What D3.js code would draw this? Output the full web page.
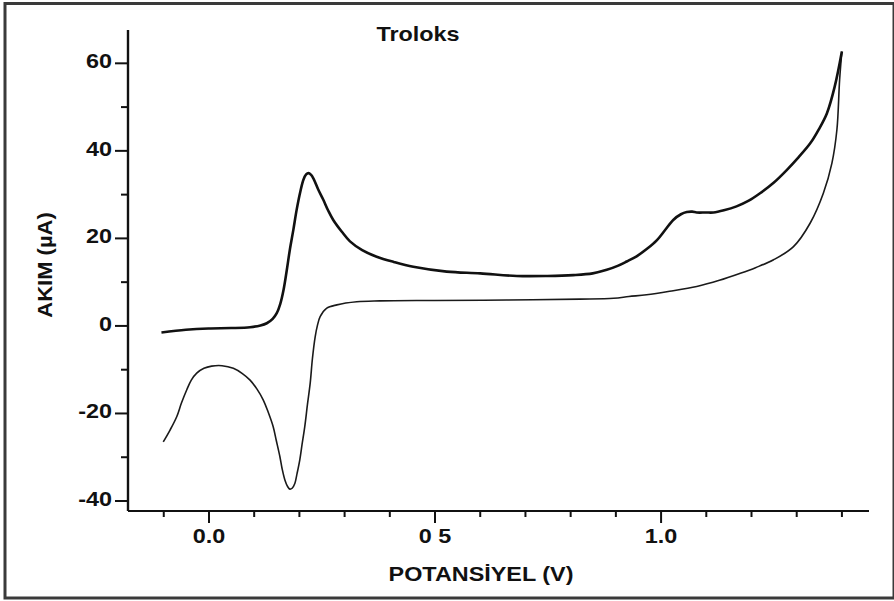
<!DOCTYPE html>
<html>
<head>
<meta charset="utf-8">
<script src="https://cdn.jsdelivr.net/npm/d3@7"></script>
<style>
  html, body { margin: 0; padding: 0; background: #fff; }
  svg { display: block; }
  text { font-family: "Liberation Sans", Arial, Helvetica, sans-serif; font-weight: bold; fill: #111; }
</style>
</head>
<body>
<svg id="chart" width="894" height="601"></svg>
<script>
// Cyclic voltammogram of Trolox: anodic sweep (forward) and cathodic sweep (return)
const forwardPotential = [
  -0.104, -0.05, 0.0, 0.05, 0.092, 0.115, 0.129, 0.142, 0.151, 0.159, 0.166, 0.173, 0.180,
  0.188, 0.195, 0.203, 0.210, 0.216, 0.221, 0.227, 0.232, 0.243, 0.254, 0.265, 0.276, 0.295,
  0.313, 0.340, 0.372, 0.410, 0.453, 0.527, 0.601, 0.682, 0.750, 0.807, 0.850, 0.881, 0.905,
  0.925, 0.947, 0.970, 0.992, 1.010, 1.028, 1.045, 1.058, 1.070, 1.080, 1.100, 1.117, 1.140,
  1.168, 1.195, 1.220, 1.250, 1.279, 1.305, 1.331, 1.350, 1.368, 1.385, 1.401
];
const forwardCurrent = [
  -1.6, -1.0, -0.7, -0.6, -0.4, 0.0, 0.5, 1.5, 2.8, 5.0, 8.1, 12.5, 17.3,
  22.0, 26.4, 30.5, 33.3, 34.5, 34.8, 34.4, 33.6, 31.0, 28.7, 26.2, 24.1, 21.4,
  19.2, 17.2, 15.7, 14.5, 13.4, 12.3, 11.9, 11.3, 11.3, 11.5, 11.9, 12.7, 13.6,
  14.6, 15.8, 17.5, 19.5, 21.8, 24.1, 25.4, 25.9, 26.0, 25.8, 25.8, 25.8, 26.3,
  27.2, 28.5, 30.2, 32.6, 35.5, 38.4, 41.6, 44.8, 48.5, 54.5, 62.6
];
const reversePotential = [
  1.401, 1.396, 1.390, 1.379, 1.360, 1.331, 1.294, 1.250, 1.210, 1.176, 1.130, 1.080, 1.020,
  0.969, 0.930, 0.896, 0.822, 0.660, 0.500, 0.379, 0.328, 0.284, 0.261, 0.247, 0.241, 0.236,
  0.230, 0.225, 0.219, 0.213, 0.207, 0.202, 0.196, 0.191, 0.185, 0.180, 0.175, 0.169, 0.163,
  0.158, 0.150, 0.143, 0.132, 0.121, 0.107, 0.092, 0.075, 0.055, 0.030, 0.007, -0.010, -0.026,
  -0.038, -0.048, -0.060, -0.070, -0.085, -0.100
];
const reverseCurrent = [
  62.6, 56.1, 44.7, 37.1, 30.2, 23.4, 18.0, 15.0, 13.2, 11.9, 10.3, 8.9, 7.8,
  7.0, 6.6, 6.2, 6.0, 5.8, 5.7, 5.6, 5.4, 4.7, 3.9, 2.0, 0.0, -2.6,
  -7.5, -13.2, -18.0, -23.1, -27.2, -30.7, -33.8, -36.1, -37.2, -37.4, -36.8, -35.3, -32.8,
  -30.0, -26.3, -23.1, -19.8, -17.0, -14.5, -12.5, -11.0, -9.8, -9.2, -9.3, -9.8, -10.9,
  -12.5, -14.7, -17.8, -20.8, -23.9, -26.6
];

const xMajorTicks = [0.0, 0.5, 1.0];
const xMajorLabels = ["0.0", "0 5", "1.0"];
const xMinorTicks = [-0.1, 0.1, 0.2, 0.3, 0.4, 0.6, 0.7, 0.8, 0.9, 1.1, 1.2, 1.3, 1.4];
const yMajorTicks = [-40, -20, 0, 20, 40, 60];
const yMinorTicks = [-30, -10, 10, 30, 50];

const titleText = "Troloks";
const xTitle = "POTANSİYEL (V)";
const yTitle = "AKIM (µA)";

const svg = d3.select("#chart");
const stretch = 1.17;   // wide bold lettering
const fontSize = 20;

// outer frame
svg.append("rect")
  .attr("x", 5).attr("y", 3.5).attr("width", 889).attr("height", 594.5)
  .attr("fill", "none").attr("stroke", "#3a3a3a").attr("stroke-width", 3);

const plot = { left: 128, right: 869, top: 30, bottom: 511 };

const x = d3.scaleLinear().domain([-0.178, 1.461]).range([plot.left, plot.right]);
const y = d3.scaleLinear().domain([-42.4, 67.5]).range([plot.bottom, plot.top]);

// axes: minor ticks without labels, major ticks with labels
const gx = svg.append("g").attr("transform", `translate(0,${plot.bottom})`);
gx.append("g").call(d3.axisBottom(x).tickValues(xMinorTicks).tickSize(6).tickFormat(""));
const gxMajor = gx.append("g").call(
  d3.axisBottom(x).tickValues(xMajorTicks).tickSize(12)
    .tickFormat((d, i) => xMajorLabels[i])
);

const gy = svg.append("g").attr("transform", `translate(${plot.left},0)`);
gy.append("g").call(d3.axisLeft(y).tickValues(yMinorTicks).tickSize(7).tickFormat(""));
const gyMajor = gy.append("g").call(
  d3.axisLeft(y).tickValues(yMajorTicks).tickSize(13)
    .tickFormat(d => String(d))
);

svg.selectAll(".domain").attr("stroke", "#111").attr("stroke-width", 2.2);
svg.selectAll(".tick line").attr("stroke", "#111").attr("stroke-width", 2);

// tick labels: bold, stretched horizontally
gxMajor.selectAll(".tick text")
  .attr("font-size", fontSize).attr("font-family", null)
  .attr("y", 0).attr("dy", 0)
  .attr("transform", `translate(0,32) scale(${stretch},1)`);

gyMajor.selectAll(".tick text")
  .attr("font-size", fontSize).attr("font-family", null)
  .attr("x", 0).attr("dy", "0.25em")
  .attr("transform", `translate(-16,0) scale(${stretch},1)`);

gy.selectAll(".domain").attr("d", `M0,${plot.top}V${plot.bottom}`);
gx.selectAll(".domain").attr("d", `M${plot.left},0H${plot.right}`);

// curves
const line = d3.line()
  .x(d => x(d[0]))
  .y(d => y(d[1]))
  .curve(d3.curveCatmullRom.alpha(0.5));

const forward = forwardPotential.map((p, i) => [p, forwardCurrent[i]]);
const reverse = reversePotential.map((p, i) => [p, reverseCurrent[i]]);

svg.append("path").datum(reverse)
  .attr("d", line).attr("fill", "none")
  .attr("stroke", "#1a1a1a").attr("stroke-width", 1.6).attr("stroke-linejoin", "round");

svg.append("path").datum(forward)
  .attr("d", line).attr("fill", "none")
  .attr("stroke", "#111").attr("stroke-width", 2.6).attr("stroke-linejoin", "round");

// titles
svg.append("g").attr("transform", `translate(418,41) scale(${stretch},1)`)
  .append("text").attr("text-anchor", "middle").attr("font-size", fontSize).text(titleText);

svg.append("g").attr("transform", `translate(481,581) scale(${stretch},1)`)
  .append("text").attr("text-anchor", "middle").attr("font-size", fontSize).text(xTitle);

svg.append("g").attr("transform", `translate(52,265) rotate(-90) scale(1.1,1)`)
  .append("text").attr("text-anchor", "middle").attr("font-size", fontSize).text(yTitle);
</script>
</body>
</html>
